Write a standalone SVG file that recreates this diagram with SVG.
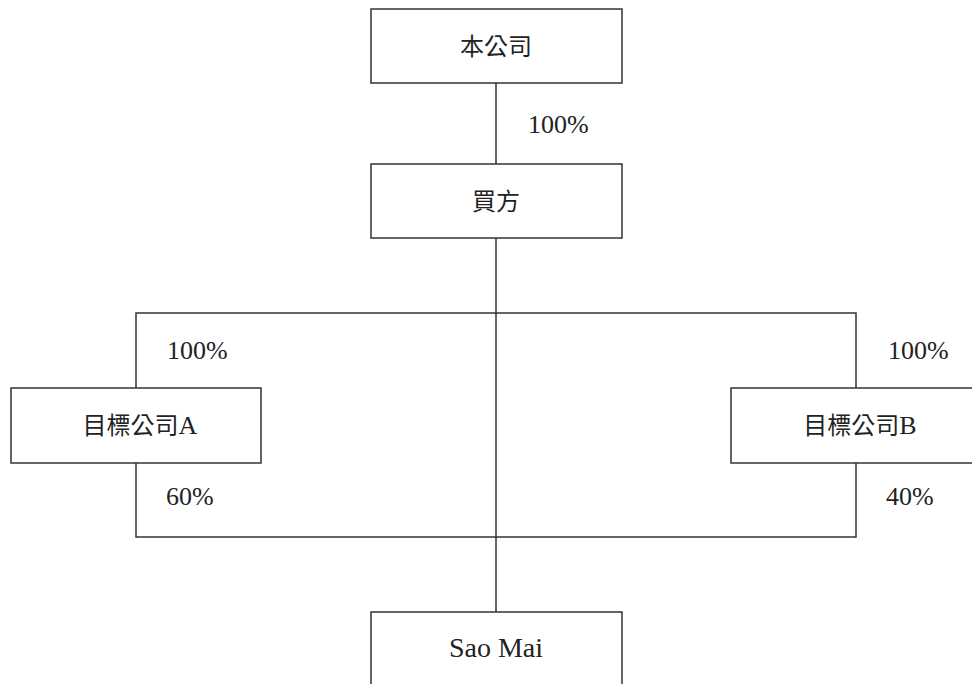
<svg xmlns="http://www.w3.org/2000/svg" width="972" height="684" viewBox="0 0 972 684">
<style>
.box{fill:#fff;stroke:#333;stroke-width:1.5}
.ln{fill:none;stroke:#333;stroke-width:1.5}
text{font-family:"Liberation Serif","Noto Sans CJK TC",serif;font-size:24px;fill:#222}
.p{font-size:26px}
.l{font-size:26px}
.c{text-anchor:middle}
</style>
<rect width="972" height="684" fill="#fff"/>
<g id="connectors">
<line class="ln" x1="496" y1="83" x2="496" y2="164"/>
<line class="ln" x1="496" y1="238" x2="496" y2="612"/>
<polyline class="ln" points="136,388 136,313 856,313 856,388"/>
<polyline class="ln" points="136,463 136,537 856,537 856,463"/>
<text class="p" x="528" y="133">100%</text>
<text class="p" x="167" y="359">100%</text>
<text class="p" x="166" y="505">60%</text>
<text class="p" x="888" y="359">100%</text>
<text class="p" x="886" y="505">40%</text>
</g>
<g id="company">
<rect class="box" x="371" y="9" width="251" height="74"/>
<text class="c" x="496" y="55">本公司</text>
</g>
<g id="buyer">
<rect class="box" x="371" y="164" width="251" height="74"/>
<text class="c" x="496" y="210">買方</text>
</g>
<g id="targetA">
<rect class="box" x="11" y="388" width="250" height="75"/>
<text class="c" x="140" y="434">目標公司<tspan class="l">A</tspan></text>
</g>
<g id="targetB">
<rect class="box" x="731" y="388" width="260" height="75"/>
<text class="c" x="860" y="434">目標公司<tspan class="l">B</tspan></text>
</g>
<g id="saomai">
<rect class="box" x="371" y="612" width="251" height="90"/>
<text class="c" x="496" y="657" style="font-size:28px">Sao Mai</text>
</g>
</svg>
